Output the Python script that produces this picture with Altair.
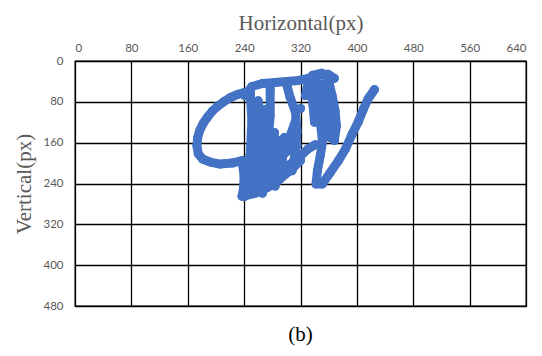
import altair as alt
import pandas as pd

BLUE = "#4472C4"

x_ticks = [0, 80, 160, 240, 320, 400, 480, 560, 640]
y_ticks = [0, 80, 160, 240, 320, 400, 480]

stroke = []
horizontal = []
vertical = []

def add(sid, xs, ys):
    stroke.extend([sid] * len(xs))
    horizontal.extend(xs)
    vertical.extend(ys)

# loop on the left, down into the blob and rising diagonal
add(1,
    [249, 240, 230, 220, 211, 203, 195, 188, 182, 177, 174, 173, 175, 181, 192, 206, 223, 237, 240, 239, 237, 256, 274, 291, 308, 320],
    [62, 62, 66, 72, 80, 88, 98, 110, 122, 136, 150, 166, 182, 192, 198, 202, 200, 195, 225, 251, 265, 259, 247, 231, 211, 195])
# top band
add(2,
    [241, 251, 266, 284, 300, 317, 331, 345, 359, 368],
    [68, 50, 44, 42, 40, 38, 34, 28, 26, 34])
# vertical strokes in the blob
add(3, [249, 251, 249, 244, 241], [68, 117, 176, 235, 265])
add(4, [260, 263, 260, 256], [78, 137, 195, 255])
add(19, [256, 257, 254, 250], [100, 150, 205, 250])
add(5, [277, 277, 274, 270, 266], [54, 107, 156, 215, 259])
add(20, [270, 268, 264, 262], [95, 150, 200, 250])
add(6, [291, 288, 284], [156, 206, 245])
add(21, [297, 295, 292, 288], [150, 185, 215, 235])
add(7, [300, 305, 313, 315, 313, 308], [44, 70, 101, 137, 176, 215])
add(8, [313, 303, 291], [117, 156, 195])
add(22, [283, 282, 280, 278], [140, 180, 215, 240])
# right cluster
add(9, [341, 345, 348, 351], [38, 78, 117, 156])
add(10, [359, 365, 369, 371, 368], [34, 68, 97, 127, 156])
add(11, [354, 357, 359], [58, 97, 137])
add(24, [350, 362, 364, 362], [45, 80, 120, 150])
add(25, [335, 338, 340], [60, 90, 120])
add(12, [337, 350, 362, 360, 344], [28, 24, 30, 50, 48])
add(13, [320], [93])
add(14, [330, 327], [48, 68])
# V stroke up to the end point
add(15,
    [352, 348, 344, 342, 351, 362, 374, 384, 393, 402, 409, 416, 425],
    [152, 186, 215, 241, 241, 219, 195, 172, 144, 119, 95, 74, 56])
# connector
add(16, [320, 331, 341], [186, 172, 164])
# lower blob fill
add(17, [241, 263, 284, 305, 320], [259, 251, 235, 215, 192])
add(18, [249, 270, 291, 313], [245, 231, 215, 195])
add(23, [244, 262, 280, 298, 315], [225, 215, 200, 180, 165])

df = pd.DataFrame({"stroke": stroke, "horizontal": horizontal, "vertical": vertical})
df["idx"] = range(len(df))

x_enc = alt.X(
    "horizontal:Q",
    scale=alt.Scale(domain=[0, 640], nice=False, zero=False),
    axis=alt.Axis(orient="top", values=x_ticks, title="Horizontal(px)", grid=True,
                  titlePadding=9, labelPadding=8),
)
y_enc = alt.Y(
    "vertical:Q",
    scale=alt.Scale(domain=[0, 480], nice=False, reverse=True, zero=False),
    axis=alt.Axis(values=y_ticks, title="Vertical(px)", grid=True,
                  titlePadding=8, labelPadding=12),
)

base = alt.Chart(df)
line = base.mark_line(color=BLUE, strokeWidth=9, strokeCap="round", strokeJoin="round").encode(
    x=x_enc, y=y_enc, detail="stroke:N", order="idx:Q")
pts = base.mark_circle(color=BLUE, size=80, opacity=1).encode(x=x_enc, y=y_enc)

chart = alt.layer(line, pts).properties(
    width=451,
    height=245,
    title=alt.TitleParams("(b)", orient="bottom", anchor="middle", font="Liberation Serif",
                          fontSize=21, fontWeight="normal", color="#000000", offset=12),
    padding={"left": 67, "top": 53, "right": 8, "bottom": 40},
    autosize="none",
).configure_view(
    stroke="#000000", strokeWidth=1.3
).configure_axis(
    domain=False,
    ticks=False,
    tickSize=0,
    gridColor="#000000",
    gridWidth=1.3,
    gridOpacity=1,
    labelFont="Lato",
    labelFontSize=11.5,
    labelColor="#595959",
    titleFont="Liberation Serif",
    titleFontSize=21,
    titleFontWeight="normal",
    titleColor="#595959",
)

chart.save("out.html", embed_options={"renderer": "svg", "actions": False})
